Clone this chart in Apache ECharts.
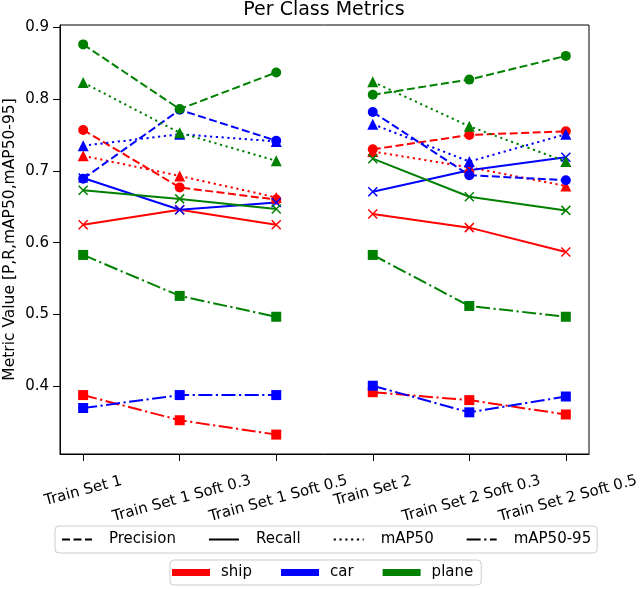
<!DOCTYPE html>
<html><head><meta charset="utf-8">
<script src="https://cdn.jsdelivr.net/npm/echarts@6/dist/echarts.min.js"></script>
<style>html,body{margin:0;padding:0;background:#fff}#c{width:640px;height:589px}</style>
</head><body><div id="c"></div>
<script>
// ---- data ----
const categories = ['Train Set 1', 'Train Set 1 Soft 0.3', 'Train Set 1 Soft 0.5', 'Train Set 2', 'Train Set 2 Soft 0.3', 'Train Set 2 Soft 0.5'];
const yTicks = [0.4, 0.5, 0.6, 0.7, 0.8, 0.9];
const classNames = ['ship', 'car', 'plane'];
const metricNames = ['Precision', 'Recall', 'mAP50', 'mAP50-95'];

const shipPrecision = [0.757, 0.677, 0.660, 0.730, 0.750, 0.755];
const shipRecall    = [0.625, 0.646, 0.625, 0.640, 0.621, 0.587];
const shipMAP50     = [0.721, 0.693, 0.663, 0.727, 0.705, 0.679];
const shipMAP5095   = [0.388, 0.353, 0.333, 0.392, 0.381, 0.361];

const carPrecision  = [0.689, 0.785, 0.742, 0.782, 0.694, 0.687];
const carRecall     = [0.690, 0.646, 0.656, 0.671, 0.701, 0.719];
const carMAP50      = [0.735, 0.751, 0.741, 0.765, 0.713, 0.751];
const carMAP5095    = [0.370, 0.388, 0.388, 0.401, 0.364, 0.386];

const planePrecision = [0.876, 0.786, 0.837, 0.806, 0.827, 0.860];
const planeRecall    = [0.673, 0.661, 0.647, 0.717, 0.664, 0.645];
const planeMAP50     = [0.823, 0.753, 0.714, 0.824, 0.762, 0.713];
const planeMAP5095   = [0.583, 0.526, 0.497, 0.583, 0.512, 0.497];

const groups = [[0, 1, 2], [3, 4, 5]];

// ---- styles ----
const FONT = 'DejaVu Sans';
const classColors = { ship: '#ff0000', car: '#0000ff', plane: '#008000' };
const metricDash = { 'Precision': [8, 3.5], 'Recall': 'solid', 'mAP50': [2.2, 3.6], 'mAP50-95': [14, 3.5, 2.2, 3.5] };
const X_PATH = 'path://M0,0L10,10M0,10L10,0';
const metricSymbol = { 'Precision': 'circle', 'Recall': X_PATH, 'mAP50': 'triangle', 'mAP50-95': 'rect' };
const metricSymbolSize = { 'Precision': 10, 'Recall': 9, 'mAP50': 11, 'mAP50-95': 10 };

const dataTable = {
  ship:  { 'Precision': shipPrecision,  'Recall': shipRecall,  'mAP50': shipMAP50,  'mAP50-95': shipMAP5095 },
  car:   { 'Precision': carPrecision,   'Recall': carRecall,   'mAP50': carMAP50,   'mAP50-95': carMAP5095 },
  plane: { 'Precision': planePrecision, 'Recall': planeRecall, 'mAP50': planeMAP50, 'mAP50-95': planeMAP5095 }
};

const series = [];
classNames.forEach(cls => {
  metricNames.forEach(m => {
    const vals = dataTable[cls][m];
    const isX = m === 'Recall';
    groups.forEach(g => {
      series.push({
        type: 'line',
        name: cls + ' ' + m,
        data: g.map(i => [i, vals[i]]),
        symbol: metricSymbol[m],
        symbolSize: metricSymbolSize[m],
        showSymbol: true,
        lineStyle: { color: classColors[cls], width: 2, type: metricDash[m] },
        itemStyle: isX
          ? { color: classColors[cls], borderColor: classColors[cls], borderWidth: 1.5 }
          : { color: classColors[cls], borderWidth: 0 },
        emphasis: { disabled: true },
        silent: true
      });
    });
  });
});

// dummy series for the legends
metricNames.forEach(m => {
  series.push({ type: 'line', name: m, data: [], symbol: 'none', showSymbol: false, color: '#000',
    itemStyle: { opacity: 0 },
    lineStyle: { color: '#000', width: 2, type: metricDash[m] } });
});
classNames.forEach(c => {
  series.push({ type: 'line', name: c, data: [], symbol: 'none', color: classColors[c],
    itemStyle: { color: classColors[c] }, lineStyle: { color: classColors[c], width: 7 } });
});

const xTickValues = categories.map((_, i) => i);
const labelText = { fontSize: 15, color: '#000', fontFamily: FONT };

const option = {
  animation: false,
  backgroundColor: '#fff',
  textStyle: { fontFamily: FONT },
  title: {
    text: 'Per Class Metrics', left: 324, textAlign: 'center', top: 1, padding: 0,
    textStyle: { fontFamily: FONT, fontSize: 19, fontWeight: 'normal', color: '#000' }
  },
  grid: { left: 60, right: 51, top: 25, bottom: 135, show: true, borderColor: '#000', borderWidth: 1,
    containLabel: false, outerBoundsMode: 'none' },
  xAxis: {
    type: 'value', min: -0.24, max: 5.24,
    axisLine: { show: true, onZero: false, lineStyle: { color: '#000', width: 1 } },
    axisTick: { show: true, customValues: xTickValues, length: 7, lineStyle: { color: '#000' } },
    axisLabel: {
      customValues: xTickValues,
      formatter: v => {
        const s = categories[Math.round(v)];
        return (s.length > 12 ? '{l|' : '{s|') + s + '}';
      },
      rich: {
        s: Object.assign({}, labelText),
        l: Object.assign({ padding: [16, 0, 0, 0] }, labelText)
      },
      rotate: 15, align: 'center', verticalAlign: 'middle', margin: 37,
      fontSize: 15, color: '#000', fontFamily: FONT, hideOverlap: false
    },
    splitLine: { show: false }
  },
  yAxis: {
    type: 'value', min: 0.306, max: 0.903,
    axisLine: { show: true, onZero: false, lineStyle: { color: '#000', width: 1 } },
    axisTick: { show: true, customValues: yTicks, length: 7, lineStyle: { color: '#000' } },
    axisLabel: { customValues: yTicks, formatter: v => v.toFixed(1), fontSize: 15, color: '#000', margin: 11, fontFamily: FONT },
    splitLine: { show: false },
    name: 'Metric Value [P,R,mAP50,mAP50-95]', nameLocation: 'middle', nameGap: 42, nameMoveOverlap: false,
    nameTextStyle: { fontSize: 15.5, color: '#000', fontFamily: FONT }
  },
  legend: [
    {
      data: metricNames, left: 55, top: 526, orient: 'horizontal',
      padding: [6, 6, 6, 6], itemGap: 32, itemWidth: 30, itemHeight: 14,
      borderColor: '#cccccc', borderWidth: 1, borderRadius: 4,
      selectedMode: false,
      itemStyle: { opacity: 0 },
      lineStyle: { width: 2 },
      textStyle: { fontSize: 15, color: '#000', fontFamily: FONT, padding: [0, 0, 0, 12] }
    },
    {
      data: classNames, left: 170, top: 560, orient: 'horizontal',
      padding: [5, 8, 5, 2], itemGap: 29, itemWidth: 38, itemHeight: 7, icon: 'rect',
      borderColor: '#cccccc', borderWidth: 1, borderRadius: 4,
      selectedMode: false,
      textStyle: { fontSize: 15, color: '#000', fontFamily: FONT, padding: [0, 0, 0, 6] }
    }
  ],
  series: series
};

const chart = echarts.init(document.getElementById('c'), null, { renderer: 'canvas' });
chart.setOption(option);
</script>
</body></html>
